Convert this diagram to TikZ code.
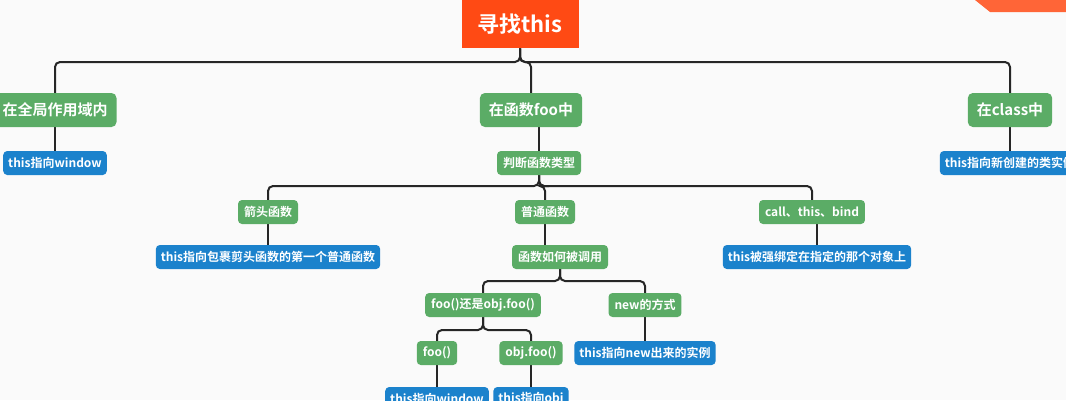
\documentclass[tikz,border=0pt]{standalone}
\usepackage{fontspec}
\setmainfont{Noto Sans CJK SC Bold}
\usetikzlibrary{backgrounds}
\begin{document}
\begin{tikzpicture}[x=1pt,y=-1pt,
  g/.style={fill=gnode,rounded corners=4pt,text=white,font=\fontsize{12}{13}\selectfont,inner xsep=6pt,minimum height=24pt},
  gb/.style={g,font=\fontsize{15}{17}\selectfont,minimum height=34pt,inner xsep=9pt,rounded corners=5pt},
  b/.style={fill=bnode,rounded corners=4pt,text=white,font=\fontsize{12}{13}\selectfont,inner xsep=5pt,minimum height=24pt},
  e/.style={draw=black!85,line width=2pt,rounded corners=5pt}]
\definecolor{gnode}{HTML}{5BAC66}
\definecolor{bnode}{HTML}{1B82CC}
\definecolor{rnode}{HTML}{FF4A14}
\clip (0,0) rectangle (1066,400);
\node[fill=rnode,text=white,font=\fontsize{22}{24}\selectfont,minimum width=117pt,minimum height=48pt,anchor=north] (root) at (520,0) {寻找this};
\node[gb] (l1) at (55,110) {在全局作用域内};
\node[gb] (l2) at (531,110) {在函数foo中};
\node[gb] (l3) at (1010,110) {在class中};
\node[b] (w1) at (55,163) {this指向window};
\node[b] (c1) at (1010,163) {this指向新创建的类实例};
\node[g] (pd) at (539,163) {判断函数类型};
\node[g] (jt) at (268,212) {箭头函数};
\node[g] (pt) at (545,212) {普通函数};
\node[g] (cb) at (812,212) {call、this、bind};
\node[b] (jt1) at (268,257) {this指向包裹剪头函数的第一个普通函数};
\node[g] (hs) at (560,257) {函数如何被调用};
\node[b] (cb1) at (817,257) {this被强绑定在指定的那个对象上};
\node[g] (fo) at (483,305) {foo()还是obj.foo()};
\node[g] (nw) at (645,305) {new的方式};
\node[g] (f1) at (437,353) {foo()};
\node[g] (f2) at (531,353) {obj.foo()};
\node[b] (nw1) at (645,353) {this指向new出来的实例};
\node[b] (f1b) at (437,399) {this指向window};
\node[b] (f2b) at (531,399) {this指向obj};
\coordinate (y1) at (0,62);
\coordinate (y2) at (0,186);
\coordinate (y3) at (0,281);
\coordinate (y4) at (0,330);
\begin{scope}[on background layer]
\fill[black!2] (0,0) rectangle (1066,400);
\fill[rnode!85!white] (975,0) -- (1066,0) -- (1066,12) -- (990,12) -- cycle;
\foreach \c in {l1,l2,l3} \draw[e] (root.south) |- (\c.north |- y1) -- (\c.north);
\draw[e] (l1) -- (w1); \draw[e] (l3) -- (c1);
\draw[e] (l2.south -| pd.north) -- (pd.north);
\foreach \c in {jt,pt,cb} \draw[e] (pd.south) |- (\c.north |- y2) -- (\c.north);
\draw[e] (jt) -- (jt1); \draw[e] (cb.south -| cb1.north) -- (cb1.north);
\draw[e] (pt.south) -- (pt.south |- hs.north);
\foreach \c in {fo,nw} \draw[e] (hs.south) |- (\c.north |- y3) -- (\c.north);
\draw[e] (nw) -- (nw1);
\foreach \c in {f1,f2} \draw[e] (fo.south) |- (\c.north |- y4) -- (\c.north);
\draw[e] (f1) -- (f1b); \draw[e] (f2) -- (f2b);
\end{scope}
\end{tikzpicture}
\end{document}
